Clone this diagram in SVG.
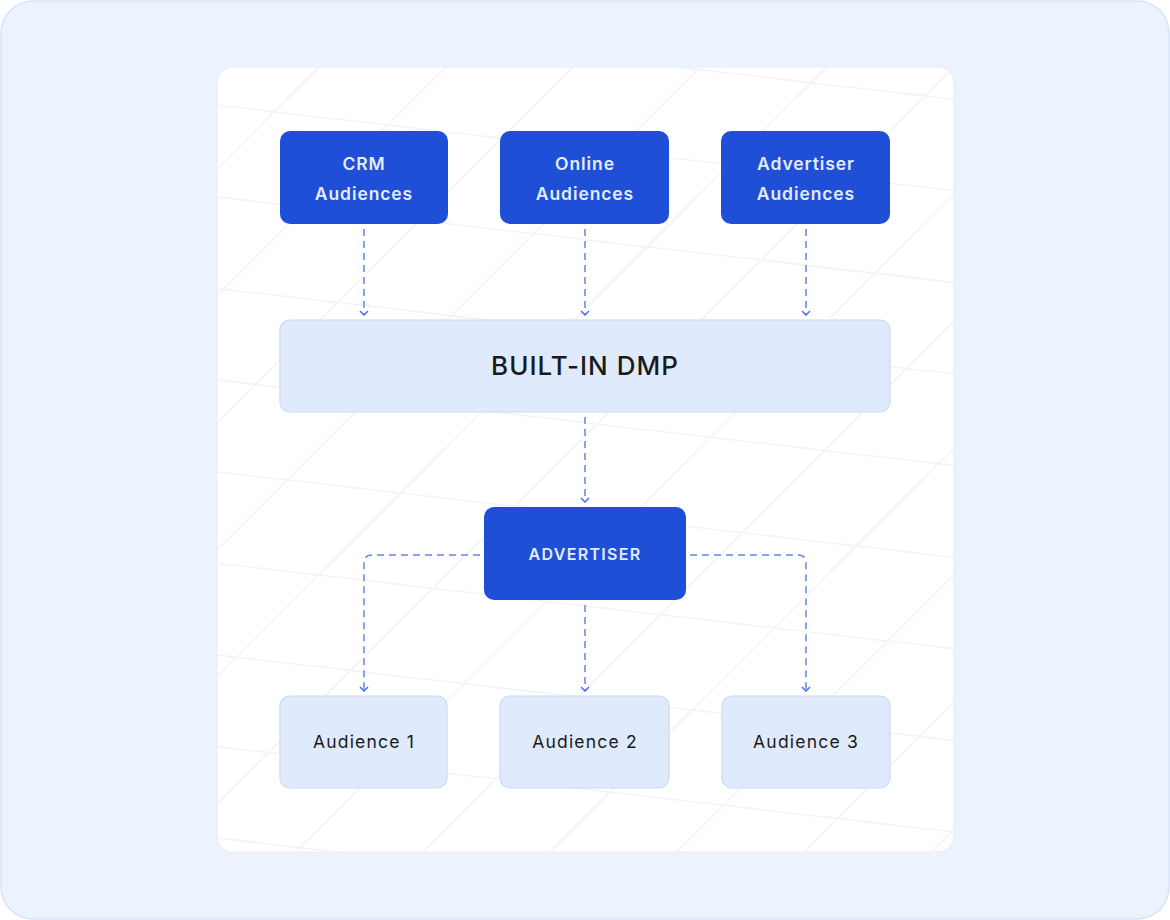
<svg xmlns="http://www.w3.org/2000/svg" width="1170" height="920" viewBox="0 0 1170 920">
<defs>
<style>
.grid line{stroke:#f3f3f5;stroke-width:1.5}
.blue rect{fill:#1f4fd6}
.blue text{fill:#e3ecff;font-family:"Inter","Noto Sans",sans-serif;font-weight:600;font-size:17.5px;letter-spacing:0.9px;text-anchor:middle}
.light rect{fill:#dfebfc;stroke:#c9daf7;stroke-width:1.2}
.light text{fill:#1a1a1a;font-family:"Inter","Noto Sans",sans-serif;font-weight:400;font-size:17.5px;letter-spacing:1.2px;text-anchor:middle}
.conn path{fill:none;stroke:#6286e8;stroke-width:1.5;stroke-dasharray:7 5}
</style>
<marker id="chev" viewBox="0 0 6 10" refX="5" refY="5" markerWidth="6" markerHeight="10" markerUnits="userSpaceOnUse" orient="auto">
<path d="M1,1 L5,5 L1,9" fill="none" stroke="#4a72e2" stroke-width="1.5"/>
</marker>
<clipPath id="panelClip"><rect x="217" y="67" width="737" height="785" rx="16"/></clipPath>
</defs>
<rect x="1" y="1" width="1168" height="918" rx="32" fill="#ecf3fe" stroke="#d7e3fa" stroke-width="1.5"/>
<rect x="217" y="67" width="737" height="785" rx="16" fill="#ffffff" stroke="#e9edf3" stroke-width="1.2"/>
<g class="grid" clip-path="url(#panelClip)">
<line x1="217" y1="13.7" x2="954" y2="99.2"/>
<line x1="217" y1="105.3" x2="954" y2="190.8"/>
<line x1="217" y1="196.9" x2="954" y2="282.4"/>
<line x1="217" y1="288.5" x2="954" y2="374"/>
<line x1="217" y1="380.1" x2="954" y2="465.6"/>
<line x1="217" y1="471.7" x2="954" y2="557.2"/>
<line x1="217" y1="563.3" x2="954" y2="648.8"/>
<line x1="217" y1="654.9" x2="954" y2="740.4"/>
<line x1="217" y1="746.5" x2="954" y2="832"/>
<line x1="217" y1="838.1" x2="954" y2="923.6"/>
<line x1="-641" y1="900" x2="359" y2="-100"/>
<line x1="-514" y1="900" x2="486" y2="-100"/>
<line x1="-387" y1="900" x2="613" y2="-100"/>
<line x1="-260" y1="900" x2="740" y2="-100"/>
<line x1="-133" y1="900" x2="867" y2="-100"/>
<line x1="-6" y1="900" x2="994" y2="-100"/>
<line x1="121" y1="900" x2="1121" y2="-100"/>
<line x1="248" y1="900" x2="1248" y2="-100"/>
<line x1="375" y1="900" x2="1375" y2="-100"/>
<line x1="502" y1="900" x2="1502" y2="-100"/>
<line x1="629" y1="900" x2="1629" y2="-100"/>
<line x1="756" y1="900" x2="1756" y2="-100"/>
<line x1="883" y1="900" x2="1883" y2="-100"/>
</g>
<g id="connectors" class="conn">
<path d="M364,229 V315" marker-end="url(#chev)"/>
<path d="M585,229 V315" marker-end="url(#chev)"/>
<path d="M806,229 V315" marker-end="url(#chev)"/>
<path d="M585,417 V502" marker-end="url(#chev)"/>
<path d="M480,555 H372 Q364,555 364,563 V691" marker-end="url(#chev)"/>
<path d="M585,605 V691" marker-end="url(#chev)"/>
<path d="M690,555 H798 Q806,555 806,563 V691" marker-end="url(#chev)"/>
</g>
<g id="crm" class="blue"><rect x="280" y="131" width="168" height="93" rx="10"/><text x="364" y="170">CRM</text><text x="364" y="200">Audiences</text></g>
<g id="online" class="blue"><rect x="500" y="131" width="169" height="93" rx="10"/><text x="585" y="170">Online</text><text x="585" y="200">Audiences</text></g>
<g id="advaud" class="blue"><rect x="721" y="131" width="169" height="93" rx="10"/><text x="806" y="170">Advertiser</text><text x="806" y="200">Audiences</text></g>
<g id="dmp" class="light"><rect x="280" y="320" width="610" height="92" rx="10"/><text x="585" y="375" style="font-size:26px;font-weight:500;letter-spacing:1px">BUILT-IN DMP</text></g>
<g id="advertiser" class="blue"><rect x="484" y="507" width="202" height="93" rx="10"/><text x="585" y="560" style="font-size:16px;letter-spacing:1.3px">ADVERTISER</text></g>
<g id="aud1" class="light"><rect x="280" y="696" width="167" height="92" rx="10"/><text x="364" y="748">Audience 1</text></g>
<g id="aud2" class="light"><rect x="500" y="696" width="169" height="92" rx="10"/><text x="585" y="748">Audience 2</text></g>
<g id="aud3" class="light"><rect x="722" y="696" width="168" height="92" rx="10"/><text x="806" y="748">Audience 3</text></g>
</svg>
